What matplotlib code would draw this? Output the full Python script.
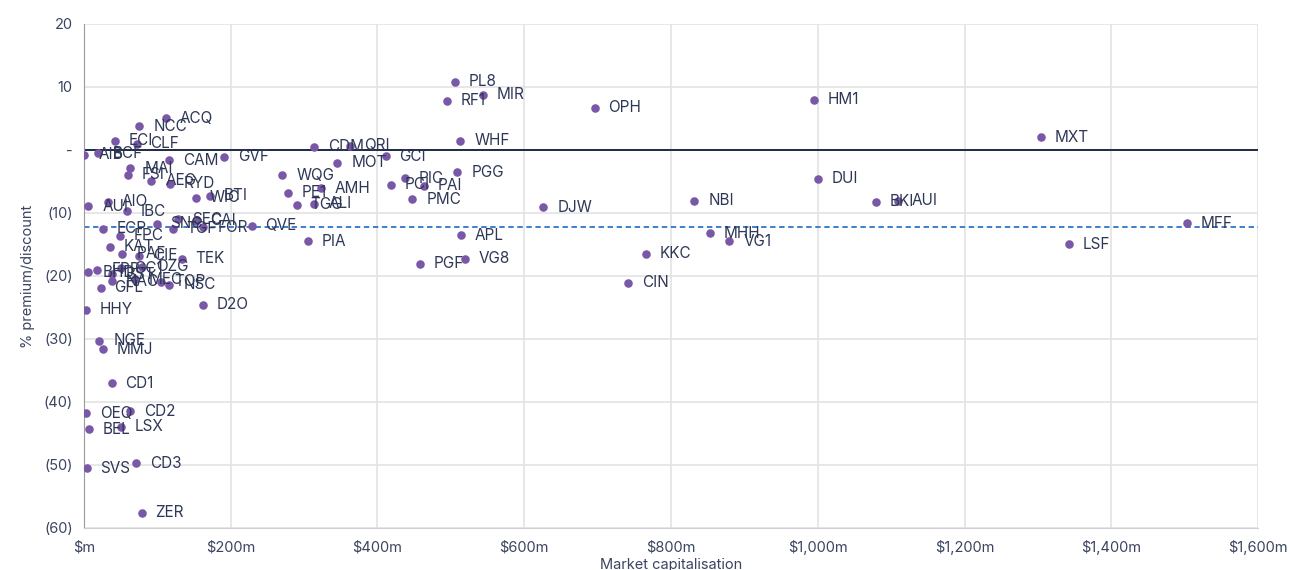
import matplotlib
matplotlib.use("Agg")
import matplotlib.pyplot as plt
from matplotlib.ticker import FuncFormatter

plt.rcParams['font.family'] = ['Inter', 'DejaVu Sans']

# ---- data ----
tickers = ["PL8", "RF1", "MIR", "OPH", "HM1", "MXT", "WHF", "ACQ", "NCC", "ECI", "CLF",
           "AIB", "BCF", "CDM", "QRI", "GCI", "MOT", "CAM", "GVF", "MAI", "FSI", "AEG",
           "RYD", "WQG", "PE1", "AMH", "TGG", "ALI", "WIC", "BTI", "PIC", "PCI", "PAI",
           "PGG", "PMC", "DUI", "BKI", "AUI", "NBI", "DJW", "AUI", "AIO", "IBC",
           "SNC", "SEC", "CAI", "TGF", "FOR", "QVE", "ECP", "FPC", "KAT", "PIA",
           "APL", "MHH", "VG1", "MFF", "LSF", "KKC", "VG8", "PGF", "CIN",
           "PAF", "CIE", "TEK", "BHD", "FPP", "BST", "GC1", "OZG", "NAC", "MEC",
           "TOP", "NSC", "GFL", "D2O", "HHY", "NGE", "MMJ", "CD1", "OEQ", "CD2",
           "BEL", "LSX", "SVS", "CD3", "ZER"]
market_cap = [505.6, 494.3, 543.4, 696.0, 994.4, 1304.2, 512.8, 111.3, 75.4, 42.2, 71.8,
              0.4, 19.5, 313.5, 362.5, 411.2, 345.2, 116.3, 191.2, 63.1, 60.0, 91.7,
              117.2, 270.3, 277.5, 323.0, 289.8, 313.9, 152.2, 171.7, 437.5, 418.0, 463.4,
              508.8, 447.4, 1000.3, 1079.4, 1109.4, 831.8, 626.0, 5.9, 32.3, 58.6,
              99.0, 128.5, 152.6, 120.8, 162.6, 228.5, 25.4, 49.0, 35.4, 305.5,
              513.8, 853.1, 879.5, 1502.8, 1342.4, 766.0, 519.3, 458.0, 741.4,
              52.2, 75.4, 133.0, 5.9, 18.2, 37.6, 50.0, 79.0, 38.0, 69.5,
              104.5, 116.3, 22.8, 161.6, 2.7, 20.9, 25.4, 37.7, 2.7, 62.7,
              6.8, 50.4, 3.6, 70.9, 78.6]
premium = [10.8, 7.8, 8.8, 6.7, 8.0, 2.0, 1.5, 5.0, 3.8, 1.5, 0.95,
           -0.8, -0.5, 0.5, 0.7, -1.0, -2.0, -1.6, -1.1, -2.9, -3.9, -4.9,
           -5.4, -4.0, -6.8, -6.1, -8.7, -8.5, -7.6, -7.3, -4.5, -5.5, -5.7,
           -3.5, -7.8, -4.6, -8.2, -8.1, -8.1, -9.1, -8.9, -8.2, -9.7,
           -11.7, -11.0, -11.2, -12.5, -12.3, -12.0, -12.5, -13.6, -15.4, -14.5,
           -13.5, -13.2, -14.5, -11.6, -15.0, -16.5, -17.3, -18.1, -21.1,
           -16.5, -16.8, -17.3, -19.4, -19.0, -19.7, -18.8, -18.5, -20.8, -20.5,
           -20.9, -21.4, -21.9, -24.6, -25.4, -30.3, -31.6, -37.0, -41.8, -41.5,
           -44.3, -43.9, -50.5, -49.7, -57.6]
average_discount = -12.2

x_ticks = [0, 200, 400, 600, 800, 1000, 1200, 1400, 1600]
y_ticks = [20, 10, 0, -10, -20, -30, -40, -50, -60]

# ---- style ----
dot_color = "#7A58A8"
text_color = "#2E3856"
tick_color = "#3A4560"
grid_color = "#E3E3E3"

fig = plt.figure(figsize=(12.92, 5.70), dpi=100)
ax = fig.add_axes([0.065, 0.0737, 0.9087, 0.8843])

ax.set_xlim(0, 1600)
ax.set_ylim(-60, 20)
ax.set_xticks(x_ticks)
ax.set_yticks(y_ticks)

def xfmt(v, pos):
    if v == 0:
        return "$m"
    return "${:,.0f}m".format(v)

def yfmt(v, pos):
    if v == 0:
        return "-"
    if v < 0:
        return "({:.0f})".format(-v)
    return "{:.0f}".format(v)

ax.xaxis.set_major_formatter(FuncFormatter(xfmt))
ax.yaxis.set_major_formatter(FuncFormatter(yfmt))

ax.grid(True, color=grid_color, linewidth=1.2, zorder=0)
ax.set_axisbelow(True)
for s in ["top", "right"]:
    ax.spines[s].set_visible(False)
ax.spines["left"].set_color("#9A9A9A")
ax.spines["bottom"].set_color("#D0D0D0")
ax.tick_params(axis="both", length=0, labelsize=10.5, colors=tick_color, pad=8)
ax.tick_params(axis="x", pad=9)

ax.axhline(0, color="#1E2A44", linewidth=1.4, zorder=2)
ax.axhline(average_discount, color="#2F74C6", linewidth=1.3, linestyle=(0, (3, 2)), zorder=2)

ax.scatter(market_cap, premium, s=38, color=dot_color, zorder=3, linewidths=0)

for t, xv, yv in zip(tickers, market_cap, premium):
    ax.annotate(t, (xv, yv), xytext=(10, 0), textcoords="offset points",
                va="center", ha="left", fontsize=11, color=text_color, zorder=4)

ax.set_xlabel("Market capitalisation", fontsize=10.5, color=tick_color, labelpad=2)
ax.set_ylabel("% premium/discount", fontsize=10.5, color=tick_color, labelpad=6)

fig.savefig("out.png", dpi=100)
